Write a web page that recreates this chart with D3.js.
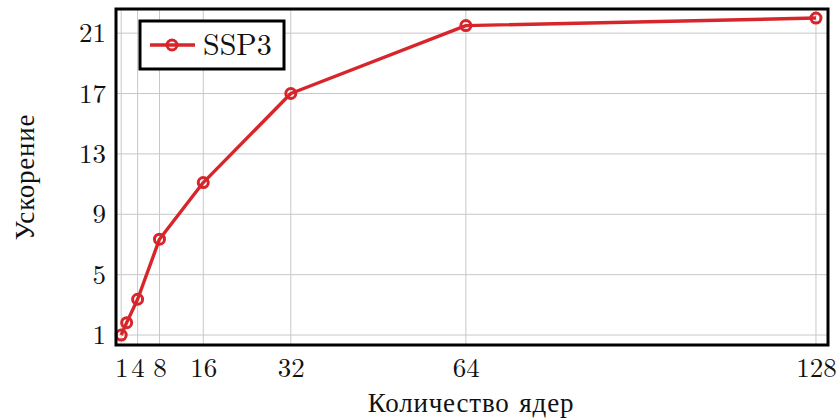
<!DOCTYPE html>
<html><head><meta charset="utf-8">
<script src="https://cdn.jsdelivr.net/npm/d3@7"></script>
<style>body{margin:0;background:#fff}svg{display:block}text{font-family:"Latin Modern Roman","CMU Serif","Liberation Serif",serif;fill:#111}</style>
</head><body>
<svg id="c" width="840" height="420"></svg>
<script>
const cores = [1, 2, 4, 8, 16, 32, 64, 128];
const speedup = [1.0, 1.82, 3.37, 7.35, 11.1, 17.0, 21.5, 22.0];
const xTicks = [1, 4, 8, 16, 32, 64, 128];
const yTicks = [1, 5, 9, 13, 17, 21];
const seriesName = "SSP3";
const xLabel = "Количество ядер";
const yLabel = "Ускорение";

const FONT = '"Latin Modern Roman","CMU Serif","Liberation Serif",serif';
const svg = d3.select("#c");
const L = 116, R = 828, T = 9, B = 345;
const x = d3.scaleLinear().domain([0.05, 130.2]).range([L, R]);
const y = d3.scaleLinear().domain([0.34, 22.6]).range([B, T]);
const red = "#d7262b";

const g = svg.append("g");
g.selectAll(".gx").data(xTicks).join("line")
  .attr("x1", d => x(d)).attr("x2", d => x(d)).attr("y1", T).attr("y2", B)
  .attr("stroke", "#c8c8c8").attr("stroke-width", 1);
g.selectAll(".gy").data(yTicks).join("line")
  .attr("y1", d => y(d)).attr("y2", d => y(d)).attr("x1", L).attr("x2", R)
  .attr("stroke", "#c8c8c8").attr("stroke-width", 1);

const xAxis = d3.axisBottom(x).tickValues(xTicks).tickSize(0).tickPadding(13).tickFormat(d3.format("d"));
const gx = svg.append("g").attr("transform", `translate(0,${B})`).call(xAxis);
gx.select(".domain").remove();
gx.selectAll("text").attr("font-size", 27).attr("fill", "#111").style("font-family", FONT);

const yAxis = d3.axisLeft(y).tickValues(yTicks).tickSize(0).tickPadding(10).tickFormat(d3.format("d"));
const gy = svg.append("g").attr("transform", `translate(${L},0)`).call(yAxis);
gy.select(".domain").remove();
gy.selectAll("text").attr("font-size", 27).attr("fill", "#111").style("font-family", FONT);

const line = d3.line().x((d, i) => x(cores[i])).y(d => y(d));
svg.append("path").datum(speedup).attr("d", line)
  .attr("fill", "none").attr("stroke", red).attr("stroke-width", 3.4).attr("stroke-linejoin", "round");
svg.selectAll(".pt").data(speedup).join("circle")
  .attr("cx", (d, i) => x(cores[i])).attr("cy", d => y(d)).attr("r", 5)
  .attr("fill", "none").attr("stroke", red).attr("stroke-width", 3);

svg.append("rect").attr("x", L).attr("y", T).attr("width", R - L).attr("height", B - T)
  .attr("fill", "none").attr("stroke", "#000").attr("stroke-width", 3);

const lg = svg.append("g");
lg.append("rect").attr("x", 140).attr("y", 21).attr("width", 144).attr("height", 48)
  .attr("fill", "#fff").attr("stroke", "#000").attr("stroke-width", 3);
lg.append("line").attr("x1", 150).attr("x2", 195).attr("y1", 45).attr("y2", 45)
  .attr("stroke", red).attr("stroke-width", 3.4);
lg.append("circle").attr("cx", 172).attr("cy", 45).attr("r", 5)
  .attr("fill", "none").attr("stroke", red).attr("stroke-width", 3);
lg.append("text").attr("x", 203).attr("y", 55).attr("font-size", 30).text(seriesName);

svg.append("text").attr("x", 471).attr("y", 412).attr("text-anchor", "middle").attr("font-size", 27)
  .attr("letter-spacing", 0.8).text(xLabel);
svg.append("text").attr("transform", "translate(34,177) rotate(-90)").attr("text-anchor", "middle").attr("font-size", 27)
  .attr("letter-spacing", 0.8).text(yLabel);
</script>
</body></html>
